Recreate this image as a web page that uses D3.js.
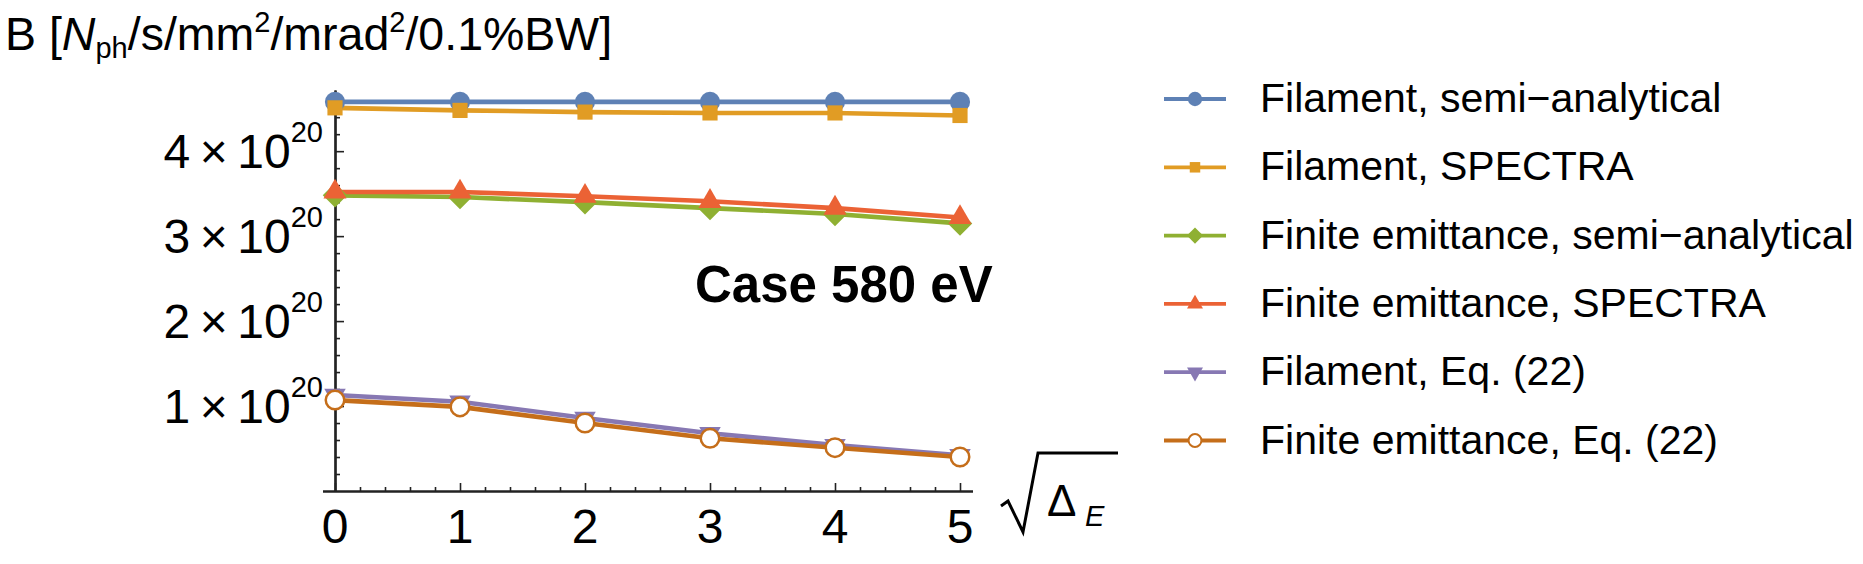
<!DOCTYPE html>
<html>
<head>
<meta charset="utf-8">
<script src="https://cdn.jsdelivr.net/npm/d3@7"></script>
<style>
  body { margin: 0; background: #fff; }
  text { font-family: "Liberation Sans", Arial, sans-serif; fill: #000; }
</style>
</head>
<body>
<div id="chart"></div>
<script>
// x values: sqrt(Delta_E)
var xValues = [0, 1, 2, 3, 4, 5];

// brightness values, in units of 1e20 Nph/s/mm2/mrad2/0.1%BW
var filamentSemi = [4.58, 4.58, 4.58, 4.58, 4.58, 4.58];
var filamentSpectra = [4.51, 4.48, 4.46, 4.45, 4.45, 4.42];
var finiteSemi = [3.48, 3.46, 3.40, 3.33, 3.26, 3.15];
var finiteSpectra = [3.52, 3.52, 3.47, 3.41, 3.33, 3.22];
var filamentEq22 = [1.13, 1.05, 0.86, 0.68, 0.54, 0.42];
var finiteEq22 = [1.07, 0.99, 0.80, 0.62, 0.51, 0.40];

var seriesNames = [
  "Filament, semi\u2212analytical",
  "Filament, SPECTRA",
  "Finite emittance, semi\u2212analytical",
  "Finite emittance, SPECTRA",
  "Filament, Eq. (22)",
  "Finite emittance, Eq. (22)"
];

var xTickValues = [0, 1, 2, 3, 4, 5];
var yTickValues = [1, 2, 3, 4];
var yTickLabels = ["1", "2", "3", "4"];

var svgWidth = 1863;
var svgHeight = 564;

var svg = d3.select("#chart")
  .append("svg")
  .attr("width", svgWidth)
  .attr("height", svgHeight);

// scales (axis runs a little past 0 and 5 like the original)
var xScale = d3.scaleLinear()
  .domain([-0.1, 5.1])
  .range([322.5, 972.5]);

var yScale = d3.scaleLinear()
  .domain([0, 4.72])
  .range([491, 90]);

// custom symbol shapes
var diamondSym = {
  draw: function(ctx, size) {
    var r = Math.sqrt(size / 2);
    ctx.moveTo(0, -r);
    ctx.lineTo(r, 0);
    ctx.lineTo(0, r);
    ctx.lineTo(-r, 0);
    ctx.closePath();
  }
};
var triDownSym = {
  draw: function(ctx, size) {
    var s = Math.sqrt(size * 4 / Math.sqrt(3));
    var h = s * Math.sqrt(3) / 2;
    ctx.moveTo(-s / 2, -h / 3);
    ctx.lineTo(s / 2, -h / 3);
    ctx.lineTo(0, 2 * h / 3);
    ctx.closePath();
  }
};

var series = [
  { name: seriesNames[0], values: filamentSemi, color: "#5E81B5", symbol: d3.symbolCircle, size: 320, legendSize: 160, open: false },
  { name: seriesNames[1], values: filamentSpectra, color: "#E19C24", symbol: d3.symbolSquare, size: 230, legendSize: 110, open: false },
  { name: seriesNames[2], values: finiteSemi, color: "#8FB032", symbol: diamondSym, size: 300, legendSize: 130, open: false },
  { name: seriesNames[3], values: finiteSpectra, color: "#EB6235", symbol: d3.symbolTriangle, size: 230, legendSize: 110, open: false },
  { name: seriesNames[4], values: filamentEq22, color: "#8778B3", symbol: triDownSym, size: 200, legendSize: 110, open: false },
  { name: seriesNames[5], values: finiteEq22, color: "#C56E1A", symbol: d3.symbolCircle, size: 270, legendSize: 130, open: true }
];

// axes
var axisColor = "#222";

var xAxisMinor = d3.axisBottom(xScale)
  .tickValues(d3.range(0, 5.01, 0.2).filter(function(v) { return Math.abs(v - Math.round(v)) > 0.01; }))
  .tickSizeInner(-4)
  .tickSizeOuter(0)
  .tickFormat("");

var xAxisMajor = d3.axisBottom(xScale)
  .tickValues(xTickValues)
  .tickSizeInner(-8)
  .tickSizeOuter(0)
  .tickFormat("");

var yAxisMinor = d3.axisLeft(yScale)
  .tickValues(d3.range(0.2, 4.7, 0.2).filter(function(v) { return Math.abs(v - Math.round(v)) > 0.01; }))
  .tickSizeInner(-5)
  .tickSizeOuter(0)
  .tickFormat("");

var yAxisMajor = d3.axisLeft(yScale)
  .tickValues(yTickValues)
  .tickSizeInner(-9)
  .tickSizeOuter(0)
  .tickFormat("");

var gx = svg.append("g").attr("transform", "translate(0," + yScale(0) + ")").style("color", axisColor);
gx.append("g").call(xAxisMinor);
gx.append("g").call(xAxisMajor);

var gy = svg.append("g").attr("transform", "translate(" + xScale(0) + ",0)").style("color", axisColor);
gy.append("g").call(yAxisMinor);
gy.append("g").call(yAxisMajor);

svg.selectAll(".domain").attr("stroke-width", 2.2);
svg.selectAll(".tick line").attr("stroke-width", 1.6);

// x tick labels
svg.append("g").selectAll("text")
  .data(xTickValues)
  .enter()
  .append("text")
  .attr("x", function(d) { return xScale(d); })
  .attr("y", 543)
  .attr("text-anchor", "middle")
  .attr("font-size", "48px")
  .text(function(d) { return d; });

// y tick labels  "n x 10^20"
var yLab = svg.append("g").selectAll("text")
  .data(yTickValues)
  .enter()
  .append("text")
  .attr("x", xScale(0) - 12)
  .attr("y", function(d) { return yScale(d) + 17; })
  .attr("text-anchor", "end")
  .attr("font-size", "48px");
yLab.append("tspan").text(function(d, i) { return yTickLabels[i] + "\u2009\u00d7\u200910"; });
yLab.append("tspan").attr("dy", -26).attr("font-size", "29px").text("20");

// lines
var line = d3.line()
  .x(function(d, i) { return xScale(xValues[i]); })
  .y(function(d) { return yScale(d); });

svg.append("g").selectAll("path")
  .data(series)
  .enter()
  .append("path")
  .attr("d", function(s) { return line(s.values); })
  .attr("fill", "none")
  .attr("stroke", function(s) { return s.color; })
  .attr("stroke-width", 4.6)
  .attr("stroke-linejoin", "round");

// markers
series.forEach(function(s) {
  var sym = d3.symbol().type(s.symbol).size(s.size);
  svg.append("g").selectAll("path")
    .data(s.values)
    .enter()
    .append("path")
    .attr("d", sym)
    .attr("transform", function(d, i) { return "translate(" + xScale(xValues[i]) + "," + yScale(d) + ")"; })
    .attr("fill", s.open ? "#fff" : s.color)
    .attr("stroke", s.open ? s.color : "none")
    .attr("stroke-width", s.open ? 2.5 : 0);
});

// title
var title = svg.append("text")
  .attr("x", 5)
  .attr("y", 50)
  .attr("font-size", "46.5px");
title.append("tspan").text("B [");
title.append("tspan").attr("font-style", "italic").text("N");
title.append("tspan").attr("dy", 8).attr("font-size", "29px").text("ph");
title.append("tspan").attr("dy", -8).text("/s/mm");
title.append("tspan").attr("dy", -18).attr("font-size", "29px").text("2");
title.append("tspan").attr("dy", 18).text("/mrad");
title.append("tspan").attr("dy", -18).attr("font-size", "29px").text("2");
title.append("tspan").attr("dy", 18).text("/0.1%BW]");

// annotation
svg.append("text")
  .attr("x", 695)
  .attr("y", 302)
  .attr("font-family", "'Open Sans', sans-serif")
  .attr("font-weight", "bold")
  .attr("font-size", "51px")
  .text("Case 580 eV");

// x axis label: sqrt(Delta_E)
svg.append("path")
  .attr("d", "M1001,506 L1008,501 L1023,532 L1038,453 L1118,453")
  .attr("fill", "none")
  .attr("stroke", "#000")
  .attr("stroke-width", 3)
  .attr("stroke-linejoin", "miter");
svg.append("text")
  .attr("x", 1047)
  .attr("y", 516)
  .attr("font-size", "44px")
  .text("\u0394");
svg.append("text")
  .attr("x", 1085)
  .attr("y", 526)
  .attr("font-size", "29px")
  .attr("font-style", "italic")
  .text("E");

// legend
var legend = svg.append("g").selectAll("g")
  .data(series)
  .enter()
  .append("g")
  .attr("transform", function(d, i) { return "translate(1164," + (99 + i * 68.3) + ")"; });

legend.append("line")
  .attr("x1", 0)
  .attr("x2", 62)
  .attr("stroke", function(s) { return s.color; })
  .attr("stroke-width", 3.8);

legend.append("path")
  .attr("d", function(s) { return d3.symbol().type(s.symbol).size(s.legendSize)(); })
  .attr("transform", "translate(31,0)")
  .attr("fill", function(s) { return s.open ? "#fff" : s.color; })
  .attr("stroke", function(s) { return s.open ? s.color : "none"; })
  .attr("stroke-width", function(s) { return s.open ? 2 : 0; });

legend.append("text")
  .attr("x", 96)
  .attr("y", 13)
  .attr("font-size", "41px")
  .text(function(s) { return s.name; });
</script>
</body>
</html>
